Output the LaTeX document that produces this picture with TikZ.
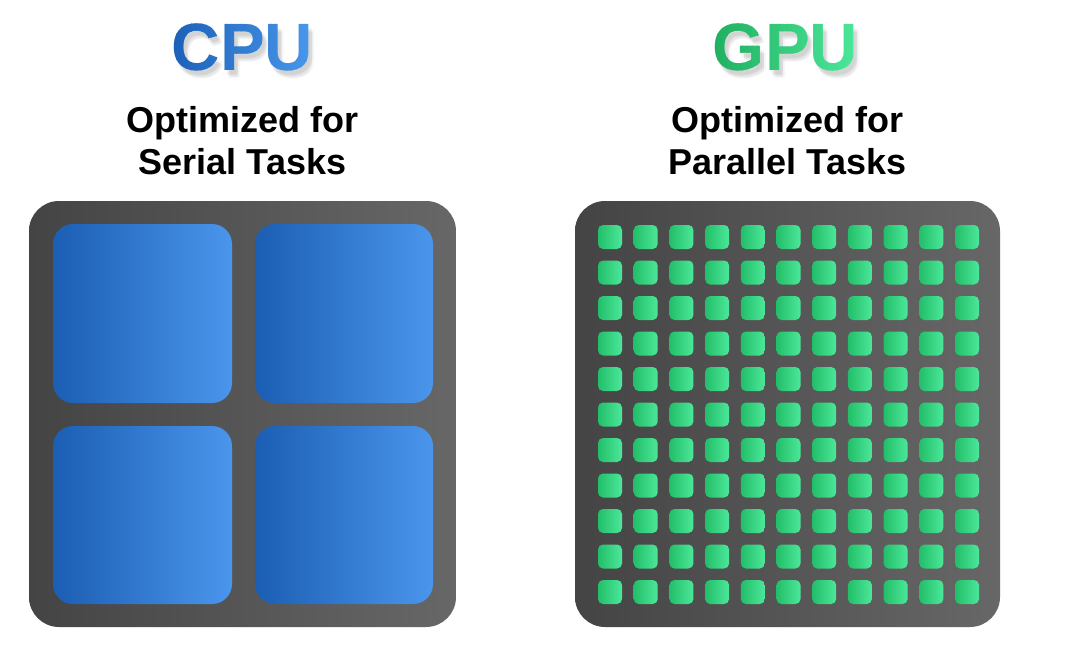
\documentclass[tikz,border=0pt]{standalone}
\usepackage{fontspec}
\setmainfont{Liberation Sans}
\definecolor{cpuA}{HTML}{1B5FB6}
\definecolor{cpuB}{HTML}{4B9CF0}
\definecolor{gpuA}{HTML}{1FAE60}
\definecolor{gpuB}{HTML}{4EEA9C}
\definecolor{chipA}{HTML}{444444}
\definecolor{chipB}{HTML}{676767}
\definecolor{coreA}{HTML}{1B5EB3}
\definecolor{coreB}{HTML}{4A96EC}
\definecolor{tinyA}{HTML}{22BE69}
\definecolor{tinyB}{HTML}{4CE89A}
\tikzset{
  titlefont/.style={font=\bfseries\fontsize{67}{67}\selectfont,inner sep=0pt,anchor=base},
  subfont/.style={font=\bfseries\fontsize{36}{42}\selectfont,inner sep=0pt,anchor=base,text=black},
  chip/.style={rounded corners=30pt,left color=chipA,right color=chipB,draw=none},
  core/.style={rounded corners=20pt,left color=coreA,right color=coreB,draw=none},
  tiny/.style={rounded corners=5pt,left color=tinyA,right color=tinyB,draw=none},
}
\begin{document}
\begin{tikzpicture}[x=1pt,y=-1pt]
\useasboundingbox[fill=white] (0,0) rectangle (1080,648);
% soft title shadows
\foreach \dx/\dy in {4/6,2/5,6/7,4/4,4/8}{
  \node[titlefont,text=black,opacity=0.035] at (242.5+\dx,70+\dy) {CPU};
  \node[titlefont,text=black,opacity=0.035] at (785.5+\dx,70+\dy) {GPU};
}
% gradient titles, drawn in thin vertical strips
\foreach \k in {0,...,31}{
  \pgfmathsetmacro{\p}{100*\k/31}
  \begin{scope}
    \clip (166+5*\k,0) rectangle (171.2+5*\k,100);
    \node[titlefont,text=cpuB!\p!cpuA] at (242.5,70) {CPU};
  \end{scope}
  \begin{scope}
    \clip (707+5*\k,0) rectangle (712.2+5*\k,100);
    \node[titlefont,text=gpuB!\p!gpuA] at (785.5,70) {GPU};
  \end{scope}
}
% subtitles
\node[subfont] (cs1) at (242.5,132) {Optimized for};
\node[subfont] (cs2) at (242.5,174) {Serial Tasks};
\node[subfont] (gs1) at (787.5,132) {Optimized for};
\node[subfont] (gs2) at (787.5,174) {Parallel Tasks};
% CPU chip
\path[chip] (29,201) rectangle (456,627);
\path[core] (53,224) rectangle (232,403);
\path[core] (255,224) rectangle (433,403);
\path[core] (53,426) rectangle (232,604);
\path[core] (255,426) rectangle (433,604);
% GPU chip
\path[chip] (575,201) rectangle (1000,627);
\foreach \i in {0,...,10}{
  \foreach \j in {0,...,10}{
    \path[tiny] (598+35.7*\i,225+35.5*\j) rectangle ++(24,24);
  }
}
\end{tikzpicture}
\end{document}
